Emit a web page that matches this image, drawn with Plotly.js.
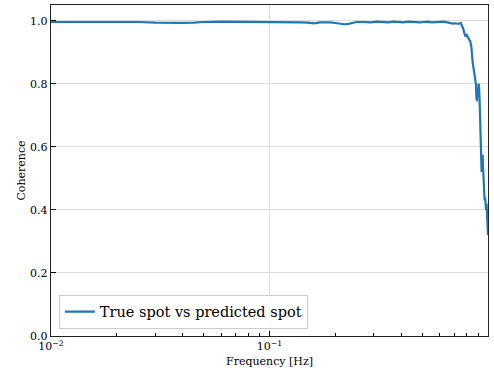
<!DOCTYPE html>
<html>
<head>
<meta charset="utf-8">
<script src="https://cdn.plot.ly/plotly-3.0.1.min.js"></script>
<style>
  html, body { margin: 0; padding: 0; background: #fff; }
  #chart { width: 494px; height: 373px; }
</style>
</head>
<body>
<div id="chart"></div>
<script>
// Coherence between the true spot and the predicted spot, per frequency (Hz)
const freqHz = [
  0.01, 0.013, 0.017, 0.02, 0.025, 0.03, 0.035, 0.04, 0.045, 0.05,
  0.06, 0.07, 0.08, 0.09, 0.10, 0.11, 0.12, 0.13, 0.14, 0.15,
  0.16, 0.17, 0.18, 0.19, 0.20, 0.21, 0.22, 0.23, 0.24, 0.25,
  0.27, 0.29, 0.31, 0.33, 0.35, 0.37, 0.39, 0.41, 0.43, 0.45,
  0.47, 0.49, 0.51, 0.53, 0.55, 0.57, 0.59, 0.61, 0.63, 0.65,
  0.67, 0.69, 0.71, 0.73, 0.75, 0.76, 0.77, 0.78, 0.79, 0.80,
  0.81, 0.82, 0.83, 0.84, 0.85, 0.855, 0.86, 0.87, 0.88, 0.885,
  0.89, 0.895, 0.90, 0.905, 0.91, 0.915, 0.92, 0.925, 0.93, 0.935,
  0.94, 0.945, 0.95, 0.955, 0.96, 0.965, 0.97, 0.975, 0.98, 0.985,
  0.99, 0.995, 1.0
];
const coherence = [
  0.996, 0.996, 0.997, 0.997, 0.996, 0.994, 0.993, 0.993, 0.994, 0.996,
  0.997, 0.997, 0.996, 0.995, 0.996, 0.997, 0.996, 0.996, 0.995, 0.994,
  0.992, 0.995, 0.996, 0.995, 0.993, 0.991, 0.989, 0.990, 0.994, 0.996,
  0.996, 0.995, 0.997, 0.996, 0.995, 0.997, 0.996, 0.995, 0.997, 0.996,
  0.997, 0.995, 0.996, 0.997, 0.995, 0.996, 0.997, 0.996, 0.997, 0.995,
  0.993, 0.991, 0.992, 0.990, 0.993, 0.985, 0.975, 0.960, 0.950, 0.955,
  0.945, 0.940, 0.935, 0.915, 0.870, 0.860, 0.840, 0.830, 0.800, 0.760,
  0.745, 0.780, 0.760, 0.800, 0.795, 0.750, 0.680, 0.620, 0.580, 0.520,
  0.570, 0.575, 0.530, 0.500, 0.450, 0.430, 0.440, 0.410, 0.400, 0.420,
  0.350, 0.330, 0.320
];
const seriesName = 'True spot vs predicted spot';
const xTickVals = [0.01, 0.1, 1];
const xTickText = ['10<sup>\u22122</sup>', '10<sup>\u22121</sup>', '10<sup>0</sup>'];
const xMinorVals = [0.02, 0.03, 0.04, 0.05, 0.06, 0.07, 0.08, 0.09,
                    0.2, 0.3, 0.4, 0.5, 0.6, 0.7, 0.8, 0.9];
const yTickVals = [0, 0.2, 0.4, 0.6, 0.8, 1.0];

const serif = 'DejaVu Serif, Liberation Serif, serif';

const trace = {
  x: freqHz,
  y: coherence,
  type: 'scatter',
  mode: 'lines',
  name: seriesName,
  line: { color: '#1f77b4', width: 2.2 },
  showlegend: true
};

const layout = {
  width: 494,
  height: 373,
  margin: { l: 51, r: 6, t: 5, b: 37 },
  paper_bgcolor: '#ffffff',
  plot_bgcolor: '#ffffff',
  font: { family: serif, color: '#000', size: 11 },
  showlegend: true,
  xaxis: {
    type: 'log',
    range: [-2, 0],
    tickvals: xTickVals,
    ticktext: xTickText,
    ticks: 'inside',
    ticklen: 5,
    tickcolor: '#000',
    showline: true,
    mirror: true,
    linecolor: '#222',
    linewidth: 1.2,
    showgrid: true,
    gridcolor: '#dcdcdc',
    gridwidth: 1,
    zeroline: false,
    tickfont: { family: serif, size: 11, color: '#000' },
    minor: { tickvals: xMinorVals, ticks: 'inside', ticklen: 3, tickcolor: '#000', showgrid: false },
    title: { text: 'Frequency [Hz]', font: { family: serif, size: 11, color: '#000' }, standoff: 4 }
  },
  yaxis: {
    range: [0, 1.05],
    tickvals: yTickVals,
    tickformat: '.1f',
    ticks: 'inside',
    ticklen: 5,
    tickcolor: '#000',
    showline: true,
    mirror: true,
    linecolor: '#222',
    linewidth: 1.2,
    showgrid: true,
    gridcolor: '#dcdcdc',
    gridwidth: 1,
    zeroline: false,
    tickfont: { family: serif, size: 11, color: '#000' },
    title: { text: 'Coherence', font: { family: serif, size: 11, color: '#000' }, standoff: 2 }
  },
  legend: {
    x: 0.018,
    y: 0.022,
    xanchor: 'left',
    yanchor: 'bottom',
    bgcolor: 'rgba(255,255,255,0.8)',
    bordercolor: '#cccccc',
    borderwidth: 1,
    font: { family: serif, size: 14.5, color: '#000' }
  }
};

Plotly.newPlot('chart', [trace], layout, { displayModeBar: false, staticPlot: true });
</script>
</body>
</html>
